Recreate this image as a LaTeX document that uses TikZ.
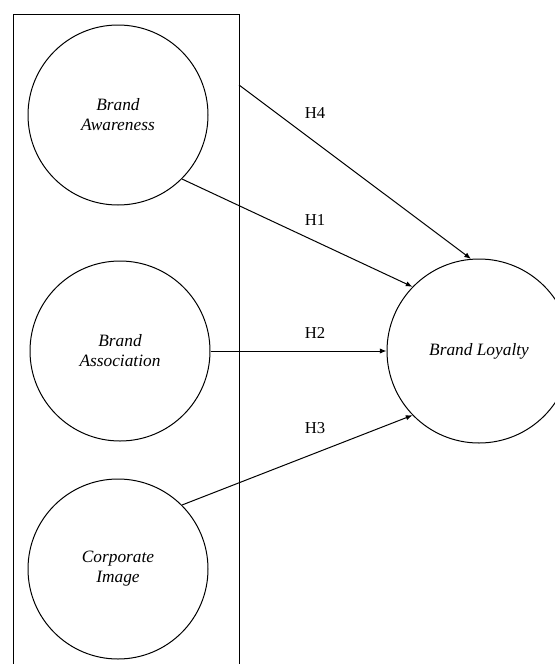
\documentclass[tikz,border=0pt]{standalone}
\usepackage{fontspec}
\setmainfont{Liberation Serif}
\usetikzlibrary{arrows.meta}
\tikzset{
    construct-circle/.style = {draw, circle, line width=0.75pt, inner sep=0pt, align=center, font=\fontsize{13}{15}\selectfont\itshape},
    path-arrow/.style = {-{Latex[length=5pt,width=4pt]}, line width=0.75pt},
    path-label/.style = {font=\fontsize{12.5}{14}\selectfont},
}
\begin{document}
\begin{tikzpicture}[x=0.75pt, y=-0.75pt]
\useasboundingbox (0,0) rectangle (554,664);
\draw[line width=0.65pt] (13,14) rectangle (239,680);
\node [construct-circle, minimum size=135pt] (awareness) at (118,115) {Brand\\Awareness};
\node [construct-circle, minimum size=135pt] (association) at (120,351) {Brand\\Association};
\node [construct-circle, minimum size=135pt] (image) at (118,569) {Corporate\\Image};
\node [construct-circle, minimum size=138pt] (loyalty) at (479,351) {Brand Loyalty};
\coordinate (h4-start) at (239,85);
\draw[path-arrow] (h4-start) -- (loyalty.95);
\draw[path-arrow] (awareness.-45) -- (loyalty.136);
\draw[path-arrow] (association.east) -- (loyalty.west);
\draw[path-arrow] (image.45) -- (loyalty.224);
\node [path-label] (h4) at (315,113) {H4};
\node [path-label] (h1) at (315,220) {H1};
\node [path-label] (h2) at (315,333) {H2};
\node [path-label] (h3) at (315,428) {H3};
\end{tikzpicture}
\end{document}
